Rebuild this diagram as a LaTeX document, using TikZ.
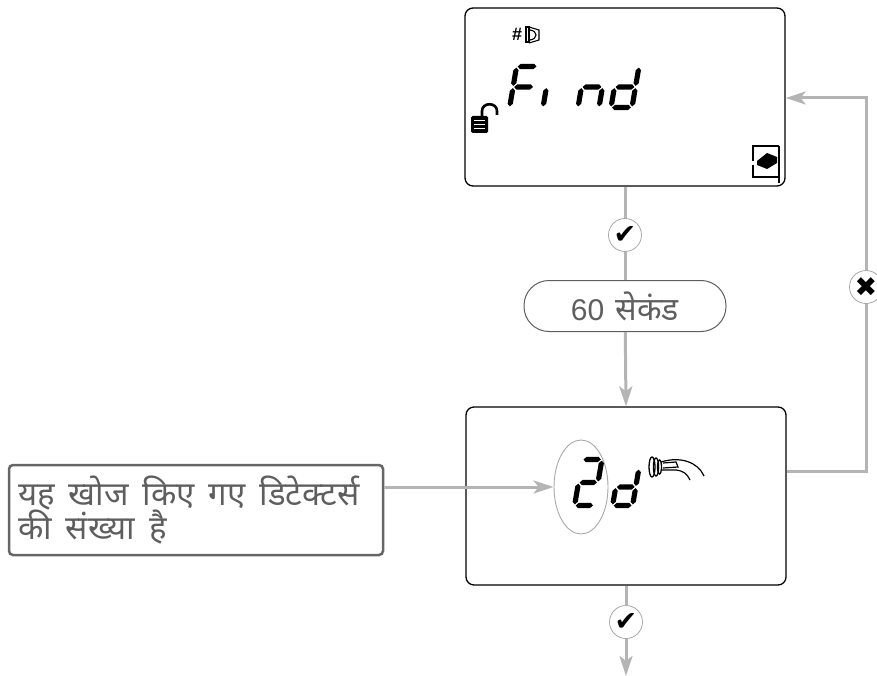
\documentclass[tikz,border=0pt]{standalone}
\usepackage{fontspec}
\setmainfont{Liberation Sans}
\newfontfamily\deva[Script=Devanagari]{Noto Sans}
\newfontfamily\symf{DejaVu Sans}
\usetikzlibrary{arrows.meta,shapes.geometric}
\definecolor{conngray}{HTML}{B4B4B4}
\definecolor{ringgray}{HTML}{A8A8A8}
\definecolor{txtgray}{HTML}{5E5E5E}
\definecolor{notegray}{HTML}{666666}
\tikzset{
  conn/.style={draw=conngray, line width=3pt},
  arr/.style={-{Stealth[length=20pt,width=13pt,inset=5pt]}},
  lcd/.style={draw=black, line width=1.3pt, rounded corners=8pt, minimum width=320pt, minimum height=178pt, fill=white},
  okc/.style={circle, draw=ringgray, line width=0.8pt, fill=white, minimum size=33pt, inner sep=0pt, font=\symf\fontsize{27}{27}\selectfont},
  pillbox/.style={draw=txtgray, line width=1pt, rounded corners=25pt, minimum width=202pt, minimum height=51pt, text=txtgray, inner sep=0pt},
  notebox/.style={draw=notegray, line width=2.5pt, rounded corners=4pt, minimum width=374pt, minimum height=90pt, text=txtgray, inner sep=0pt},
}
\newcommand\ws{\hspace{14pt}}
\def\T{2.6}\def\G{1.1}
\newcommand\hseg[3]{\fill ({#1+\G},{#3}) -- ({#1+\G+\T},{#3+\T}) -- ({#2-\G-\T},{#3+\T}) -- ({#2-\G},{#3}) -- ({#2-\G-\T},{#3-\T}) -- ({#1+\G+\T},{#3-\T}) -- cycle;}
\newcommand\vseg[3]{\fill ({#1},{#2+\G}) -- ({#1+\T},{#2+\G+\T}) -- ({#1+\T},{#3-\G-\T}) -- ({#1},{#3-\G}) -- ({#1-\T},{#3-\G-\T}) -- ({#1-\T},{#2+\G+\T}) -- cycle;}
\newcommand\sga{\hseg{0}{\W}{\H}}
\newcommand\sgb{\vseg{\W}{\H/2}{\H}}
\newcommand\sgc{\vseg{\W}{0}{\H/2}}
\newcommand\sgd{\hseg{0}{\W}{0}}
\newcommand\sge{\vseg{0}{0}{\H/2}}
\newcommand\sgf{\vseg{0}{\H/2}{\H}}
\newcommand\sgg{\hseg{0}{\W}{\H/2}}
\newcommand\sdigit[5]{%
  \begin{scope}[shift={(#1,#2)}, x=1pt, y=1pt, xslant=0.17]
    \def\W{#3}\def\H{#4}%
    \foreach \s in {#5}{\csname sg\s\endcsname}
  \end{scope}}
\begin{document}
\begin{tikzpicture}[x=1pt,y=-1pt]
\useasboundingbox (0,0) rectangle (877,676);

% displays
\node[lcd] (find) at (625,97) {};
\node[lcd] (disp) at (626,496) {};

% check circles, timer, cross
\node[okc] (ok1) at (625,235) {✔};
\node[pillbox] (t60) at (625,306) {\fontsize{30}{30}\selectfont 60\hspace{3pt} {\deva\fontsize{32}{32}\selectfont सेकंड}};
\node[okc] (ok2) at (626,622) {✔};
\node[okc] (xc) at (866,287) {✖};

\coordinate (endc) at (626,676);
\coordinate (r1) at (866,471);
\coordinate (r2) at (866,98);

% note box
\node[notebox, text width=356pt, align=left] (note) at (196,510)
  {\deva\fontsize{33}{30}\selectfont यह\ws खोज\ws किए\ws गए\ws डिटेक्टर्स\\[-1pt]की\ws संख्या\ws है};

\node[ellipse, draw=ringgray, line width=0.9pt, minimum width=54pt, minimum height=94pt, inner sep=0pt] (ell) at (581,487) {};

% connectors
\draw[conn] (find.south) -- (ok1);
\draw[conn] (ok1) -- (t60);
\draw[conn,arr] (t60) -- (disp.north);
\draw[conn] (disp.south) -- (ok2);
\draw[conn,arr] (ok2) -- (endc);
\draw[conn] (disp.east |- r1) -- (r1) -- (xc);
\draw[conn,arr] (xc) -- (r2) -- (find.east |- r2);
\draw[conn,arr] (note.east |- ell.west) -- (ell.west);

% ---- LCD content: Find ----
\sdigit{509.6}{107.5}{21}{41}{a,f,e,g}
\sdigit{543}{107.5}{21}{41}{e}
\sdigit{578}{107.5}{21}{41}{e,g,c}
\sdigit{611}{107.5}{21}{41}{b,c,d,e,g}

% # and door icon
\node[font=\bfseries\fontsize{18}{18}\selectfont, inner sep=0pt] (hash) at (517,34) {\#};
\draw[line width=1.1pt] (526,27) rectangle (529,42);
\draw[line width=1.1pt] (529,27) -- (539,30) -- (539,40) -- (529,43);
\draw[line width=1.1pt] (530,30) .. controls (538,31) and (538,39) .. (530,40);

% lock icon
\fill[black, rounded corners=1.5pt] (471,116) rectangle (488,133);
\draw[white, line width=1pt] (474,120.5) -- (485,120.5) (474,124.5) -- (485,124.5) (474,128.5) -- (485,128.5);
\draw[line width=2.6pt] (482,117) -- (482,111) .. controls (482,102) and (497,102) .. (497,111) -- (497,115);

% bottom-right icon
\draw[line width=2.8pt] (753,161) -- (753,146) -- (779,146);
\draw[line width=2.8pt] (753,165) -- (753,176);
\draw[line width=1.2pt] (752,177) -- (779,177);
\draw[line width=1.2pt] (779,146) -- (779,183);
\fill[black] (757,161) -- (767,153) -- (777,157) -- (777,163) -- (767,169) -- (757,165) -- cycle;

% ---- LCD content: 2d ----
\sdigit{574.6}{505.5}{19.5}{46}{a,b,g,e,d}
\sdigit{612.6}{505.5}{20}{37}{b,c,d,e,g}

% detector icon
\draw[line width=1.3pt] (652,467) ellipse (3pt and 10pt);
\draw[line width=1.3pt] (656,467) ellipse (2.6pt and 9pt);
\draw[line width=1.3pt] (659.5,467) ellipse (2pt and 7pt);
\draw[line width=1.2pt] (661,462) .. controls (680,456) and (698,462) .. (704,476);
\draw[line width=1.2pt] (661,470) -- (676,470) .. controls (684,471) and (687,474) .. (690,480);
\draw[line width=1.2pt] (663,463) -- (676,462) -- (678,467) -- (663,468);
\end{tikzpicture}
\end{document}
